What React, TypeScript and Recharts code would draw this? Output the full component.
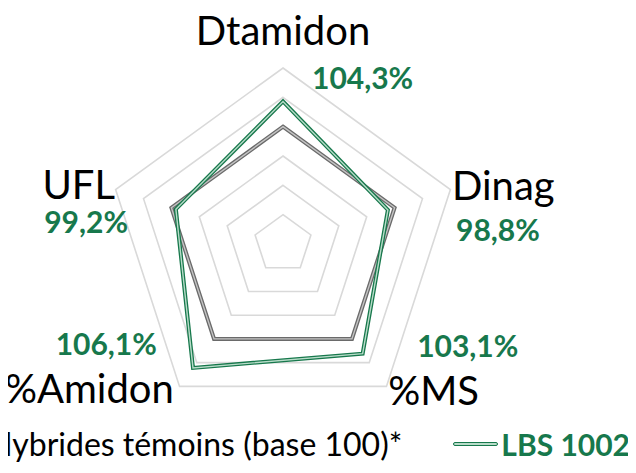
import React from 'react';
import { RadarChart, Radar, PolarGrid, PolarAngleAxis, PolarRadiusAxis, Legend } from 'recharts';

const axes = ['Dtamidon', 'Dinag', '%MS', '%Amidon', 'UFL'];
const temoinValues = [100, 100, 100, 100, 100];
const lbsValues = [104.3, 98.8, 103.1, 106.1, 99.2];
const valueLabels = ['104,3%', '98,8%', '103,1%', '106,1%', '99,2%'];
const radiusDomain = [80, 110];
const seriesNames = ['Hybrides témoins (base 100)*', 'LBS 1002'];

const data = axes.map((a, i) => ({ axis: a, temoin: temoinValues[i], lbs: lbsValues[i], label: valueLabels[i] }));

const GREEN = '#17784c';
const GREEN_LIGHT = '#b8dcc9';
const GRAY = '#6a6a6a';
const GRAY_LIGHT = '#c4c4c4';
const FONT = 'Lato, "Open Sans", sans-serif';

// label layout relative to the angle-axis tick point
const nameLayout = [
  { dx: 0, dy: -15, anchor: 'middle' },
  { dx: -6, dy: 13, anchor: 'start' },
  { dx: -3, dy: 12, anchor: 'start' },
  { dx: -1, dy: 10, anchor: 'end' },
  { dx: 7, dy: 12, anchor: 'end' },
];
const valueLayout = [
  { dx: 29, dy: 29, anchor: 'start' },
  { dx: -2, dy: 54, anchor: 'start' },
  { dx: 26, dy: -36, anchor: 'start' },
  { dx: -18, dy: -38, anchor: 'end' },
  { dx: 20, dy: 46, anchor: 'end' },
];

const AngleTick = (props: any) => {
  const { x, y, index, payload } = props;
  const n = nameLayout[index];
  const v = valueLayout[index];
  return (
    <g>
      <text x={x + n.dx} y={y + n.dy} textAnchor={n.anchor} fontFamily={FONT} fontSize={40} fill="#000">
        {payload.value}
      </text>
      <text x={x + v.dx} y={y + v.dy} textAnchor={v.anchor} fontFamily={FONT} fontSize={30} fontWeight={700} fill={GREEN}>
        {valueLabels[index]}
      </text>
    </g>
  );
};

const makeShape = (outer: string, inner: string) => (props: any) => {
  const pts = props.points || [];
  const d = pts.map((p: any, i: number) => `${i === 0 ? 'M' : 'L'}${p.x},${p.y}`).join(' ') + ' Z';
  return (
    <g>
      <path d={d} fill="none" stroke={outer} strokeWidth={4} strokeLinejoin="miter" />
      <path d={d} fill="none" stroke={inner} strokeWidth={1.4} strokeLinejoin="miter" />
    </g>
  );
};

const LegendContent = (props: any) => {
  const payload = props.payload || [];
  return (
    <div style={{ display: 'flex', justifyContent: 'flex-end', alignItems: 'center', whiteSpace: 'nowrap', fontFamily: FONT }}>
      {payload.map((entry: any, i: number) => {
        const isGreen = entry.dataKey === 'lbs';
        return (
          <div key={i} style={{ display: 'flex', alignItems: 'center', marginLeft: i === 0 ? 0 : 51, flexShrink: 0 }}>
            <div
              style={{
                width: 43,
                height: 2,
                background: isGreen ? GREEN_LIGHT : GRAY_LIGHT,
                border: `1px solid ${isGreen ? GREEN : GRAY}`,
                borderRadius: 3,
                marginRight: 3,
                flexShrink: 0,
              }}
            />
            <span
              style={{
                fontSize: isGreen ? 30 : 32,
                fontWeight: isGreen ? 700 : 400,
                color: isGreen ? GREEN : '#000',
                lineHeight: '40px',
              }}
            >
              {entry.value}
            </span>
          </div>
        );
      })}
    </div>
  );
};

export default function App() {
  return (
    <div style={{ position: 'relative', left: -28, top: -8, width: 656, height: 473 }}>
      <RadarChart
        width={656}
        height={473}
        data={data}
        cx={303}
        cy={244}
        outerRadius={176}
        margin={{ top: 0, right: 0, bottom: 0, left: 0 }}
      >
        <PolarGrid gridType="polygon" radialLines={false} stroke="#d9d9d9" strokeWidth={1.6} />
        <PolarRadiusAxis domain={radiusDomain} tickCount={7} tick={false} axisLine={false} angle={90} />
        <PolarAngleAxis dataKey="axis" tick={AngleTick} tickLine={false} axisLine={false} />
        <Radar
          name={seriesNames[0]}
          dataKey="temoin"
          stroke={GRAY}
          fill="none"
          isAnimationActive={false}
          shape={makeShape(GRAY, GRAY_LIGHT)}
        />
        <Radar
          name={seriesNames[1]}
          dataKey="lbs"
          stroke={GREEN}
          fill="none"
          isAnimationActive={false}
          shape={makeShape(GREEN, GREEN_LIGHT)}
        />
        <Legend
          content={LegendContent}
          wrapperStyle={{ position: 'absolute', left: 0, top: 424, width: 650, height: 44 }}
        />
      </RadarChart>
    </div>
  );
}
